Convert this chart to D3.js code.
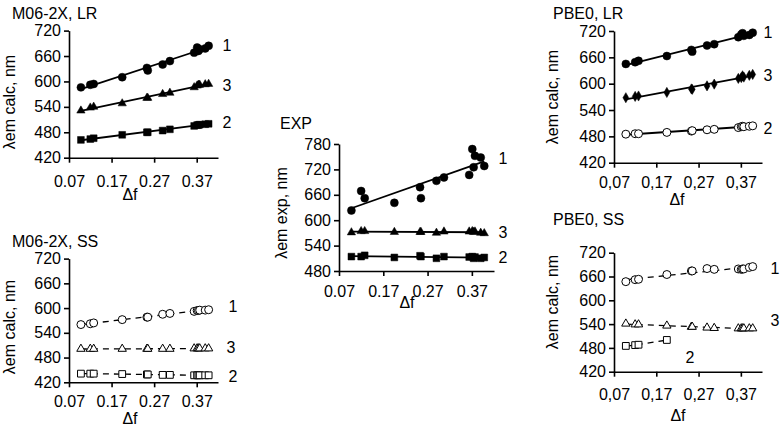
<!DOCTYPE html>
<html><head><meta charset="utf-8">
<script src="https://cdn.jsdelivr.net/npm/d3@7"></script>
<style>
html,body{margin:0;padding:0;background:#fff;}
text{font-family:"Liberation Sans",Arial,sans-serif;font-size:16px;fill:#000;}
</style></head><body>
<svg id="c" width="780" height="428"></svg>
<script>
// Δf of the solvents (shared x values)
const df = [0.098, 0.120, 0.128, 0.195, 0.253, 0.255, 0.290, 0.307, 0.364, 0.371, 0.374, 0.377, 0.390, 0.398];
const xTicks = [0.07, 0.17, 0.27, 0.37];
const yTicksCalc = [420, 480, 540, 600, 660, 720];
const yTicksExp = [480, 540, 600, 660, 720, 780];

// M06-2X, LR
const m06LR_1 = [586, 592, 594, 610, 632, 626, 640, 648, 668, 680, 672, 676, 678, 684];
const m06LR_3 = [531, 538, 540, 548, 561, 561, 570, 573, 586, 590, 592, 592, 593, 594];
const m06LR_2 = [462, 464, 466, 474, 480, 480, 484, 487, 495, 497, 497, 498, 499, 500];
// M06-2X, SS
const m06SS_1 = [560, 562, 564, 572, 578, 578, 585, 587, 592, 594, 594, 595, 595, 596];
const m06SS_3 = [501, 501, 501, 501, 501, 501, 501, 501, 502, 502, 502, 502, 502, 502];
const m06SS_2 = [441, 441, 441, 440, 439, 439, 438, 438, 437, 437, 437, 437, 437, 437];
// EXP
const exp_1 = [623, 669, 652, 641, 678, 652, 693, 701, 707, 768, 725, 752, 748, 728];
const exp_3 = [571, 574, 574, 572, 572, 572, 570, 573, 573, 574, 572, 573, 570, 569];
const exp_2 = [514, 514, 517, 512, 516, 514, 510, 514, 513, 514, 510, 513, 510, 512];
// PBE0, LR
const pbeLR_1 = [645, 649, 652, 663, 677, 673, 687, 690, 706, 712, 715, 709, 711, 716];
const pbeLR_3 = [568, 571, 572, 580, 588, 587, 595, 599, 612, 614, 618, 615, 619, 621];
const pbeLR_2 = [485, 486, 486, 489, 492, 493, 495, 496, 500, 502, 503, 502, 503, 504];
// PBE0, SS
const pbeSS_1 = [647, 652, 653, 665, 674, 674, 680, 678, 679, 678, 679, 679, 683, 685];
const pbeSS_3 = [541, 539, 539, 536, 533, 533, 531, 530, 529, 529, 529, 529, 529, 529];
const pbeSS_2 = [485, 487, 488, 500, null, null, null, null, null, null, null, null, null, null];

const svg = d3.select("#c");

const panels = [
  {title:"M06-2X, LR", ytitle:"λem calc, nm", dec:".", x0:69, x1:218, yTop:30.6, yBot:157.7, yd:[420,720], yt:yTicksCalc,
   titlePos:[12,18.5], ytPos:[9,102], dfPos:[130,199.5], tickBase:187, dash:false,
   series:[{v:m06LR_1,m:"circle",f:true,lab:"1",lp:[227,45]},{v:m06LR_3,m:"triangle",f:true,lab:"3",lp:[227,85]},{v:m06LR_2,m:"square",f:true,lab:"2",lp:[227,122]}]},
  {title:"M06-2X, SS", ytitle:"λem calc, nm", dec:".", x0:69, x1:218, yTop:258.6, yBot:382.3, yd:[420,720], yt:yTicksCalc,
   titlePos:[12,246.5], ytPos:[9,327], dfPos:[130,424], tickBase:407, dash:true,
   series:[{v:m06SS_1,m:"circle",f:false,lab:"1",lp:[233,306]},{v:m06SS_3,m:"triangle",f:false,lab:"3",lp:[231,347]},{v:m06SS_2,m:"square",f:false,lab:"2",lp:[233,376]}]},
  {title:"EXP", ytitle:"λem exp, nm", dec:".", x0:339, x1:494, yTop:144, yBot:271, yd:[480,780], yt:yTicksExp,
   titlePos:[280,128.5], ytPos:[281,213], dfPos:[407,308], tickBase:297, dash:false,
   series:[{v:exp_1,m:"circle",f:true,lab:"1",lp:[503,158]},{v:exp_3,m:"triangle",f:true,lab:"3",lp:[503,232]},{v:exp_2,m:"square",f:true,lab:"2",lp:[503,257]}]},
  {title:"PBE0, LR", ytitle:"λem calc, nm", dec:",", x0:614, x1:762, yTop:31, yBot:162.7, yd:[420,720], yt:yTicksCalc,
   titlePos:[553,18.5], ytPos:[552,97], dfPos:[677,205], tickBase:188, dash:false,
   series:[{v:pbeLR_1,m:"circle",f:true,lab:"1",lp:[768,32]},{v:pbeLR_3,m:"diamond",f:true,lab:"3",lp:[768,75]},{v:pbeLR_2,m:"circle",f:false,lab:"2",lp:[768,128]}]},
  {title:"PBE0, SS", ytitle:"λem calc, nm", dec:",", x0:614, x1:762, yTop:252.7, yBot:371.7, yd:[420,720], yt:yTicksCalc,
   titlePos:[553,225], ytPos:[552,302], dfPos:[678,421], tickBase:400, dash:true,
   series:[{v:pbeSS_1,m:"circle",f:false,lab:"1",lp:[775,268]},{v:pbeSS_3,m:"triangle",f:false,lab:"3",lp:[775,320]},{v:pbeSS_2,m:"square",f:false,lab:"2",lp:[690,357]}]}
];

const symTypes = {circle:d3.symbolCircle, triangle:d3.symbolTriangle, square:d3.symbolSquare, diamond:d3.symbolDiamond};
const symSize = {circle:50, triangle:30, square:46, diamond:30};

function linreg(pts){
  const mx = d3.mean(pts,d=>d[0]), my = d3.mean(pts,d=>d[1]);
  let sxy=0, sxx=0; pts.forEach(d=>{sxy+=(d[0]-mx)*(d[1]-my); sxx+=(d[0]-mx)**2;});
  const b = sxy/sxx, a = my-b*mx; return x=>a+b*x;
}

panels.forEach(p=>{
  const g = svg.append("g");
  const x = d3.scaleLinear().domain([0.07,0.42]).range([p.x0,p.x1]);
  const y = d3.scaleLinear().domain(p.yd).range([p.yBot,p.yTop]);
  const fmt = v => d3.format(".2f")(v).replace(".", p.dec);

  const xa = g.append("g").attr("transform",`translate(0,${p.yBot})`)
    .call(d3.axisBottom(x).tickValues(xTicks).tickSize(5).tickSizeOuter(0).tickFormat(fmt));
  xa.select(".domain").attr("stroke","#000").attr("stroke-width",1.6);
  xa.selectAll(".tick line").attr("stroke","#000").attr("stroke-width",1.6);
  xa.selectAll(".tick text").attr("dy",null).attr("y",p.tickBase-p.yBot).style("font-size","16px");
  xa.attr("font-size",null).attr("font-family",null);

  const ya = g.append("g").attr("transform",`translate(${p.x0},0)`)
    .call(d3.axisLeft(y).tickValues(p.yt).tickSize(5).tickSizeOuter(0).tickPadding(3));
  ya.select(".domain").attr("stroke","#000").attr("stroke-width",1.6);
  ya.selectAll(".tick line").attr("stroke","#000").attr("stroke-width",1.6);
  ya.selectAll(".tick text").style("font-size","16px");
  ya.attr("font-size",null).attr("font-family",null);

  g.append("text").attr("x",p.titlePos[0]).attr("y",p.titlePos[1]).text(p.title);
  g.append("text").attr("transform",`translate(${p.ytPos[0]},${p.ytPos[1]}) rotate(-90)`)
    .attr("text-anchor","middle").attr("dominant-baseline","central").text(p.ytitle);
  g.append("text").attr("x",p.dfPos[0]).attr("y",p.dfPos[1]).attr("text-anchor","middle").text("Δf");

  p.series.forEach(s=>{
    const pts = df.map((d,i)=>[d,s.v[i]]).filter(d=>d[1]!=null);
    const f = linreg(pts);
    const xmin = d3.min(pts,d=>d[0]), xmax = d3.max(pts,d=>d[0]);
    g.append("line").attr("x1",x(xmin)).attr("y1",y(f(xmin))).attr("x2",x(xmax)).attr("y2",y(f(xmax)))
      .attr("stroke","#000").attr("stroke-width",p.dash?1.3:1.8)
      .attr("stroke-dasharray",p.dash?"6,5":null);
    const sym = d3.symbol().type(symTypes[s.m]).size(symSize[s.m]);
    g.selectAll(null).data(pts).join("path")
      .attr("transform",d=>`translate(${x(d[0])},${y(d[1])})`)
      .attr("d",sym)
      .attr("fill",s.f?"#000":"#fff")
      .attr("stroke","#000").attr("stroke-width",s.f?0.5:1);
    g.append("text").attr("x",s.lp[0]).attr("y",s.lp[1]).attr("text-anchor","middle")
      .attr("dominant-baseline","central").text(s.lab);
  });
});
</script>
</body></html>
